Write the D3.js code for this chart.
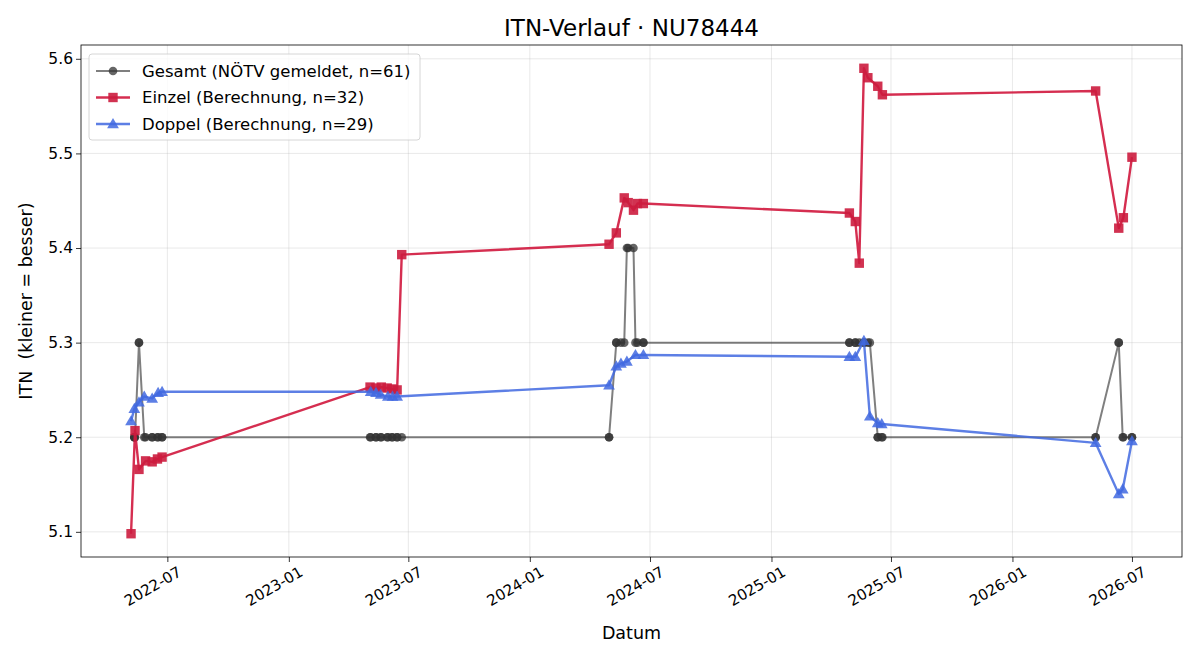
<!DOCTYPE html>
<html><head><meta charset="utf-8">
<script src="https://cdn.jsdelivr.net/npm/d3@7"></script>
<style>body{margin:0;background:#fff}svg,svg text{font-family:"DejaVu Sans",sans-serif}</style>
</head><body><svg id="c" width="1200" height="660"></svg>
<script>
const einzelDates = ["2022-05-07","2022-05-13","2022-05-19","2022-05-29","2022-06-08","2022-06-16","2022-06-23",
"2023-05-04","2023-05-13","2023-05-21","2023-05-30","2023-06-06","2023-06-14","2023-06-21",
"2024-04-30","2024-05-11","2024-05-23","2024-05-29","2024-06-06","2024-06-12","2024-06-21",
"2025-04-29","2025-05-08","2025-05-14","2025-05-21","2025-05-27","2025-06-11","2025-06-18",
"2026-05-07","2026-06-11","2026-06-18","2026-07-01"];
const einzelValues = [5.098,5.207,5.166,5.175,5.174,5.177,5.179,
5.253,5.252,5.253,5.252,5.251,5.250,5.393,
5.404,5.416,5.453,5.448,5.440,5.447,5.447,
5.437,5.428,5.384,5.590,5.580,5.571,5.562,
5.566,5.421,5.432,5.496];
const doppelDates = ["2022-05-07","2022-05-12","2022-05-19","2022-05-27","2022-06-08","2022-06-17","2022-06-23",
"2023-05-05","2023-05-13","2023-05-20","2023-05-31","2023-06-07","2023-06-14",
"2024-04-30","2024-05-11","2024-05-18","2024-05-27","2024-06-09","2024-06-21",
"2025-04-29","2025-05-08","2025-05-21","2025-05-30","2025-06-11","2025-06-17",
"2026-05-07","2026-06-11","2026-06-17","2026-07-01"];
const doppelValues = [5.217,5.230,5.237,5.243,5.241,5.247,5.248,
5.248,5.247,5.245,5.243,5.243,5.243,
5.255,5.275,5.278,5.280,5.287,5.287,
5.285,5.285,5.302,5.222,5.215,5.214,
5.194,5.140,5.145,5.196];
const gesamtDates = ["2022-05-12","2022-05-12","2022-05-12","2022-05-13","2022-05-19","2022-05-19","2022-05-27","2022-05-29","2022-06-08","2022-06-08","2022-06-16","2022-06-17","2022-06-23","2022-06-23",
"2023-05-04","2023-05-05","2023-05-13","2023-05-13","2023-05-20","2023-05-21","2023-05-30","2023-05-31","2023-06-06","2023-06-07","2023-06-14","2023-06-14","2023-06-21",
"2024-04-30","2024-04-30","2024-05-11","2024-05-11","2024-05-18","2024-05-23","2024-05-27","2024-05-29","2024-06-06","2024-06-09","2024-06-12","2024-06-21","2024-06-21",
"2025-04-29","2025-04-29","2025-05-08","2025-05-08","2025-05-14","2025-05-21","2025-05-21","2025-05-27","2025-05-30","2025-06-11","2025-06-11","2025-06-17","2025-06-18",
"2026-05-07","2026-05-07","2026-06-11","2026-06-11","2026-06-17","2026-06-18","2026-07-01","2026-07-01"];
const gesamtValues = [5.2,5.2,5.2,5.2,5.3,5.3,5.2,5.2,5.2,5.2,5.2,5.2,5.2,5.2,
5.2,5.2,5.2,5.2,5.2,5.2,5.2,5.2,5.2,5.2,5.2,5.2,5.2,
5.2,5.2,5.3,5.3,5.3,5.3,5.4,5.4,5.4,5.3,5.3,5.3,5.3,
5.3,5.3,5.3,5.3,5.3,5.3,5.3,5.3,5.3,5.2,5.2,5.2,5.2,
5.2,5.2,5.3,5.3,5.2,5.2,5.2,5.2];
const xTickLabels = ["2022-07","2023-01","2023-07","2024-01","2024-07","2025-01","2025-07","2026-01","2026-07"];
const yTickValues = [5.1,5.2,5.3,5.4,5.5,5.6];
const seriesNames = ["Gesamt (NÖTV gemeldet, n=61)","Einzel (Berechnung, n=32)","Doppel (Berechnung, n=29)"];

const parse = d3.timeParse("%Y-%m-%d");
const mk = (ds, vs) => ds.map((d,i)=>({x:parse(d), y:vs[i]}));
const gesamt = mk(gesamtDates, gesamtValues);
const einzel = mk(einzelDates, einzelValues);
const doppel = mk(doppelDates, doppelValues);
const all = gesamt.concat(einzel, doppel);

const L=81, R=1182, T=45, B=557;
const FONT = '"DejaVu Sans", sans-serif';
const svg = d3.select("#c");
let [x0,x1] = d3.extent(all, d=>+d.x); const dx=(x1-x0)*0.05;
let [y0,y1] = d3.extent(all, d=>d.y); const dy=(y1-y0)*0.05;
const x = d3.scaleTime().domain([new Date(x0-dx), new Date(x1+dx)]).range([L,R]);
const y = d3.scaleLinear().domain([y0-dy, y1+dy]).range([B,T]);
const xTicks = xTickLabels.map(s=>d3.timeParse("%Y-%m")(s));

// grid
const g = svg.append("g");
g.selectAll(".gx").data(xTicks).join("line").attr("x1",d=>x(d)).attr("x2",d=>x(d)).attr("y1",T).attr("y2",B)
 .attr("stroke","#b0b0b0").attr("stroke-opacity",0.35).attr("stroke-width",0.8);
g.selectAll(".gy").data(yTickValues).join("line").attr("y1",d=>y(d)).attr("y2",d=>y(d)).attr("x1",L).attr("x2",R)
 .attr("stroke","#b0b0b0").attr("stroke-opacity",0.35).attr("stroke-width",0.8);

// axes
const xa = svg.append("g").attr("transform",`translate(0,${B})`)
 .call(d3.axisBottom(x).tickValues(xTicks).tickFormat(d3.timeFormat("%Y-%m")).tickSizeOuter(0).tickSize(5));
xa.attr("font-family",FONT);
xa.select(".domain").remove();
xa.selectAll("text").attr("font-size",15).attr("fill","#000").attr("text-anchor","end")
 .attr("transform","rotate(-30)").attr("dx","0.25em").attr("dy","1.0em");
xa.selectAll("line").attr("stroke","#000").attr("stroke-width",0.8);
const ya = svg.append("g").attr("transform",`translate(${L},0)`)
 .call(d3.axisLeft(y).tickValues(yTickValues).tickFormat(d3.format(".1f")).tickSizeOuter(0).tickSize(5));
ya.attr("font-family",FONT);
ya.select(".domain").remove();
ya.selectAll("text").attr("font-size",15.5).attr("fill","#000");
ya.selectAll("line").attr("stroke","#000").attr("stroke-width",0.8);
svg.append("rect").attr("x",L).attr("y",T).attr("width",R-L).attr("height",B-T).attr("fill","none").attr("stroke","#000").attr("stroke-width",0.8);

const line = d3.line().x(d=>x(d.x)).y(d=>y(d.y));
const clip = svg.append("g");
function drawLine(data, color, op, w){
  clip.append("path").datum(data).attr("d",line).attr("fill","none").attr("stroke",color).attr("stroke-opacity",op).attr("stroke-width",w).attr("stroke-linejoin","round");
}
// Gesamt
drawLine(gesamt,"#3a3a3a",0.65,2);
clip.append("g").selectAll("circle").data(gesamt).join("circle").attr("cx",d=>x(d.x)).attr("cy",d=>y(d.y)).attr("r",4.3)
 .attr("fill","#333").attr("fill-opacity",0.75);
// Einzel
drawLine(einzel,"#D0173D",0.9,2.4);
clip.append("g").selectAll("rect").data(einzel).join("rect").attr("x",d=>x(d.x)-4.7).attr("y",d=>y(d.y)-4.7).attr("width",9.4).attr("height",9.4)
 .attr("fill","#cc1c3e").attr("fill-opacity",0.9);
// Doppel
const tri = d3.symbol().type(d3.symbolTriangle).size(60);
drawLine(doppel,"#4169E1",0.85,2.4);
clip.append("g").selectAll("path").data(doppel).join("path").attr("d",tri).attr("transform",d=>`translate(${x(d.x)},${y(d.y)+0.8})`)
 .attr("fill","#4169E1").attr("fill-opacity",0.85);

// title & labels
svg.append("text").attr("x",(L+R)/2).attr("y",36).attr("text-anchor","middle").attr("font-size",23).text("ITN-Verlauf · NU78444");
svg.append("text").attr("x",(L+R)/2).attr("y",639).attr("text-anchor","middle").attr("font-size",17.5).text("Datum");
svg.append("text").attr("transform",`translate(32,${(T+B)/2}) rotate(-90)`).attr("text-anchor","middle").attr("font-size",17.5)
 .style("white-space","pre").text("ITN  (kleiner = besser)");

// legend
const lg = svg.append("g").attr("transform","translate(89,54)");
lg.append("rect").attr("width",331).attr("height",86).attr("rx",3).attr("fill","#fff").attr("fill-opacity",0.8).attr("stroke","#ccc").attr("stroke-width",0.8);
const items = [
 {c:"#3a3a3a",op:0.65,m:"c"},{c:"#D0173D",op:0.9,m:"s"},{c:"#4169E1",op:0.85,m:"t"}];
items.forEach((it,i)=>{
  const yy = 17+i*26.5;
  lg.append("line").attr("x1",7).attr("x2",41).attr("y1",yy).attr("y2",yy).attr("stroke",it.c).attr("stroke-opacity",it.op).attr("stroke-width",i?2.4:2);
  if(it.m==="c") lg.append("circle").attr("cx",24).attr("cy",yy).attr("r",4.3).attr("fill","#333").attr("fill-opacity",0.75);
  if(it.m==="s") lg.append("rect").attr("x",24-4.7).attr("y",yy-4.7).attr("width",9.4).attr("height",9.4).attr("fill","#cc1c3e").attr("fill-opacity",0.9);
  if(it.m==="t") lg.append("path").attr("d",tri).attr("transform",`translate(24,${yy+0.8})`).attr("fill",it.c).attr("fill-opacity",0.85);
  lg.append("text").attr("x",53).attr("y",yy+5.5).attr("font-size",16.5).text(seriesNames[i]);
});
</script></body></html>
